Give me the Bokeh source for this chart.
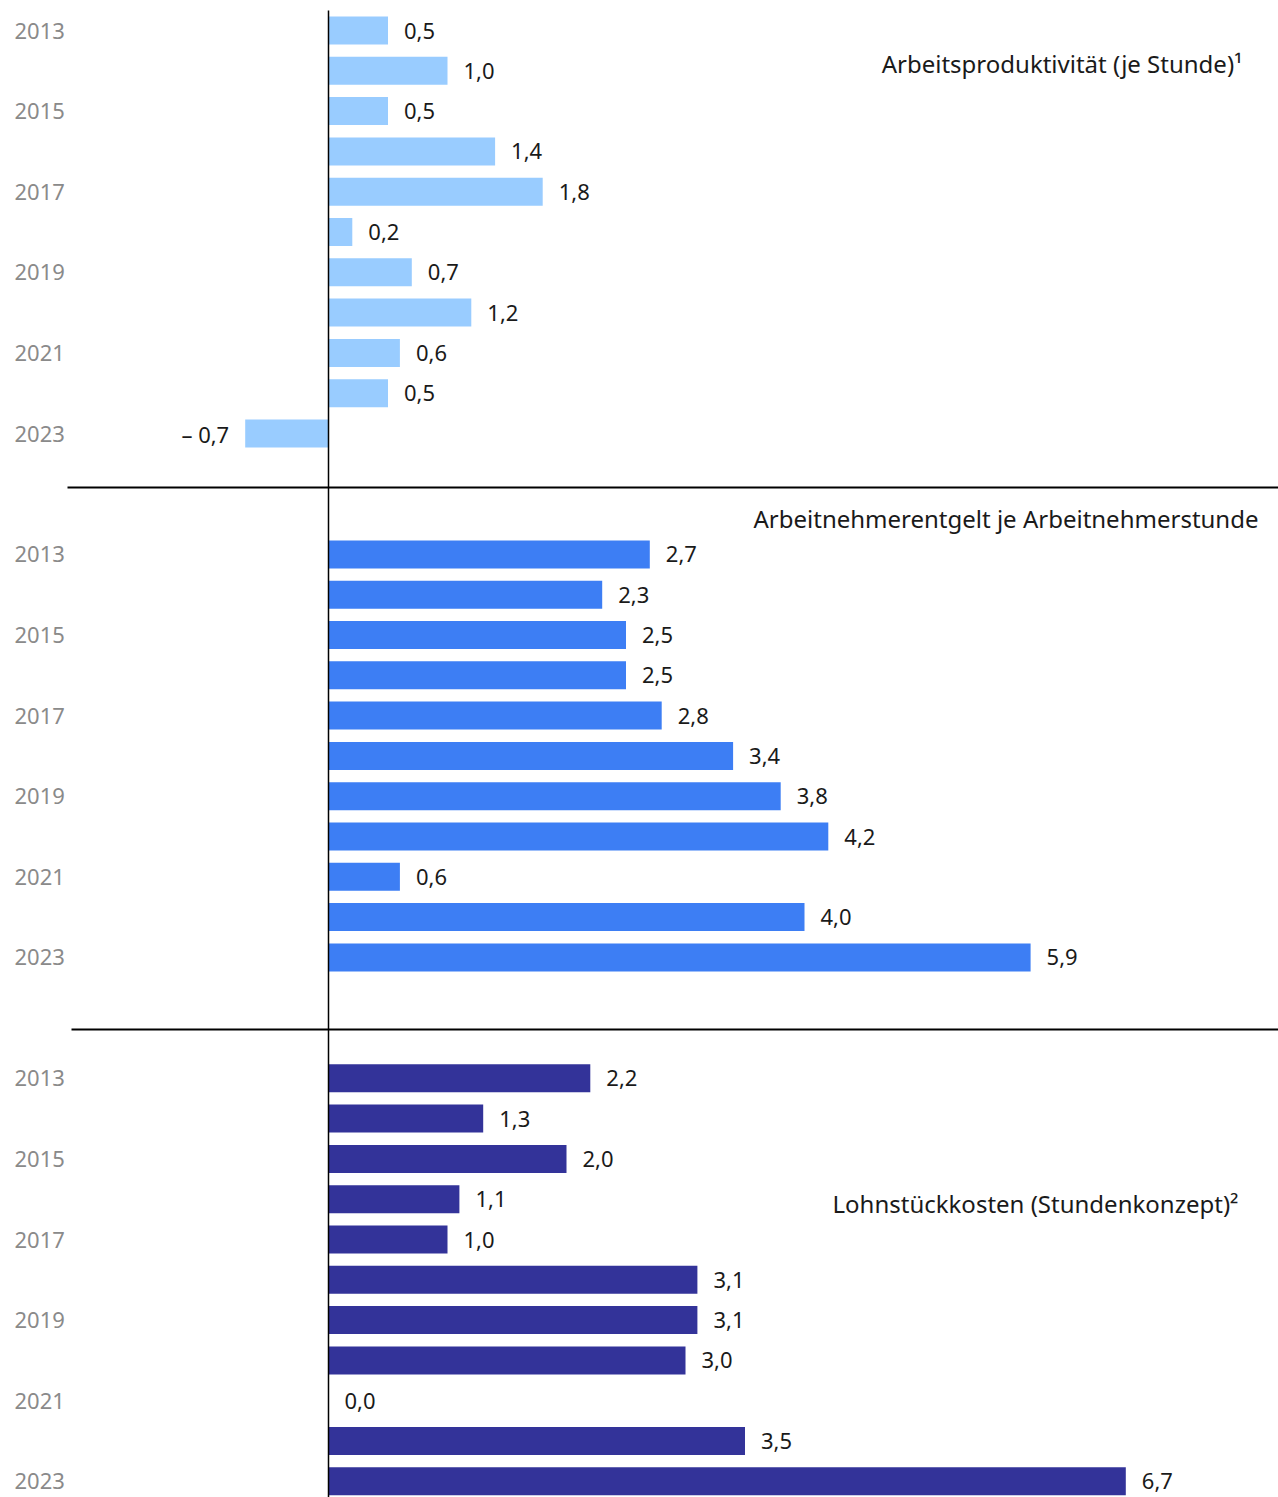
from bokeh.plotting import figure
from bokeh.models import Range1d, ColumnDataSource
from bokeh.core.properties import value
from bokeh.embed import file_html
from bokeh.resources import INLINE

years = list(range(2013, 2024))
year_labels = ["2013", "", "2015", "", "2017", "", "2019", "", "2021", "", "2023"]
produktivitaet = [0.5, 1.0, 0.5, 1.4, 1.8, 0.2, 0.7, 1.2, 0.6, 0.5, -0.7]
entgelt = [2.7, 2.3, 2.5, 2.5, 2.8, 3.4, 3.8, 4.2, 0.6, 4.0, 5.9]
lohnstueck = [2.2, 1.3, 2.0, 1.1, 1.0, 3.1, 3.1, 3.0, 0.0, 3.5, 6.7]
titles = ["Arbeitsproduktivität (je Stunde)¹",
          "Arbeitnehmerentgelt je Arbeitnehmerstunde",
          "Lohnstückkosten (Stundenkonzept)²"]
colors = ["#99ccff", "#3d7ef4", "#333399"]

W, H = 1278, 1497
PX_PER_UNIT = 119.0
ZERO_X = 328.0
ROW_PX = 40.3
ROW0_Y = 30.0

def xv(px):
    return (px - ZERO_X) / PX_PER_UNIT

def yr(px):
    return (px - ROW0_Y) / ROW_PX

p = figure(width=W, height=H, output_backend="svg", toolbar_location=None,
           x_range=Range1d(xv(0), xv(W)), y_range=Range1d(yr(H), yr(0)),
           min_border=0, outline_line_color=None)
p.axis.visible = False
p.grid.visible = False
p.background_fill_color = "white"
p.border_fill_color = "white"

FONT = "Noto Sans"
series = [produktivitaet, entgelt, lohnstueck]
bar_h = 28 / ROW_PX
off = 16 / PX_PER_UNIT

def fmt(v):
    s = f"{abs(v):.1f}".replace(".", ",")
    return ("– " + s) if v < 0 else s

for k, vals in enumerate(series):
    rows = [13 * k + i for i in range(len(years))]
    src = ColumnDataSource(dict(y=rows, left=[min(0, v) for v in vals],
                                right=[max(0, v) for v in vals]))
    p.hbar(y="y", left="left", right="right", height=bar_h, source=src,
           fill_color=colors[k], line_color=None)
    pos = [(r, v) for r, v in zip(rows, vals) if v >= 0]
    neg = [(r, v) for r, v in zip(rows, vals) if v < 0]
    p.text(x=[v + off for r, v in pos], y=[r for r, v in pos], text=[fmt(v) for r, v in pos],
           text_font=value(FONT), text_font_size="22px", text_color="#1a1a1a",
           text_baseline="middle", text_align="left")
    if neg:
        p.text(x=[v - off for r, v in neg], y=[r for r, v in neg], text=[fmt(v) for r, v in neg],
               text_font=value(FONT), text_font_size="22px", text_color="#1a1a1a",
               text_baseline="middle", text_align="right")
    p.text(x=[xv(14)] * len(rows), y=rows, text=year_labels,
           text_font=value(FONT), text_font_size="22px", text_color="#8a8a8a",
           text_baseline="middle", text_align="left")

# titles
title_x = [xv(1242), xv(1258), xv(1238)]
title_y = [yr(63), yr(518), yr(1203)]
p.text(x=title_x, y=title_y, text=titles, text_font=value(FONT), text_font_size="24px",
       text_color="#1a1a1a", text_baseline="middle", text_align="right")

# separators and zero line
p.segment(x0=[xv(67), xv(71)], y0=[yr(487), yr(1029)], x1=[xv(W), xv(W)], y1=[yr(487), yr(1029)],
          line_color="black", line_width=2)
p.segment(x0=[0], y0=[yr(10)], x1=[0], y1=[yr(H)], line_color="black", line_width=1.5)

open("out.html", "w").write(file_html(p, INLINE))
